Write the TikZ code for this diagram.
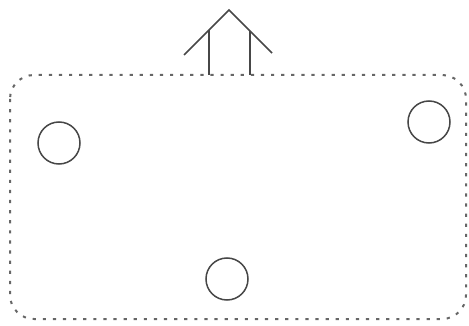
\documentclass[tikz,border=0pt]{standalone}
\begin{document}
\begin{tikzpicture}[x=1pt,y=-1pt,
  ink/.style={draw=black!72, line width=1.5pt},
  frame/.style={draw=black!60, line width=2pt, dash pattern=on 3.2pt off 6.9pt, rounded corners=24pt},
  hole/.style={circle, draw=black!72, line width=1.5pt, minimum size=42pt, inner sep=0pt}]
\useasboundingbox (0,0) rectangle (469,326);
\draw[frame] (10,75) rectangle (466,319);
\node[hole] (c1) at (59,143) {};
\node[hole] (c2) at (429,122) {};
\node[hole] (c3) at (227,279) {};
\coordinate (apex) at (229,10);
\coordinate (lend) at (184,55);
\coordinate (rend) at (272,53);
\coordinate (lt) at (209,30);
\coordinate (lb) at (209,75);
\coordinate (rt) at (250,31);
\coordinate (rb) at (250,75);
\draw[ink] (lend) -- (apex) -- (rend);
\draw[ink] (lt) -- (lb);
\draw[ink] (rt) -- (rb);
\end{tikzpicture}
\end{document}
